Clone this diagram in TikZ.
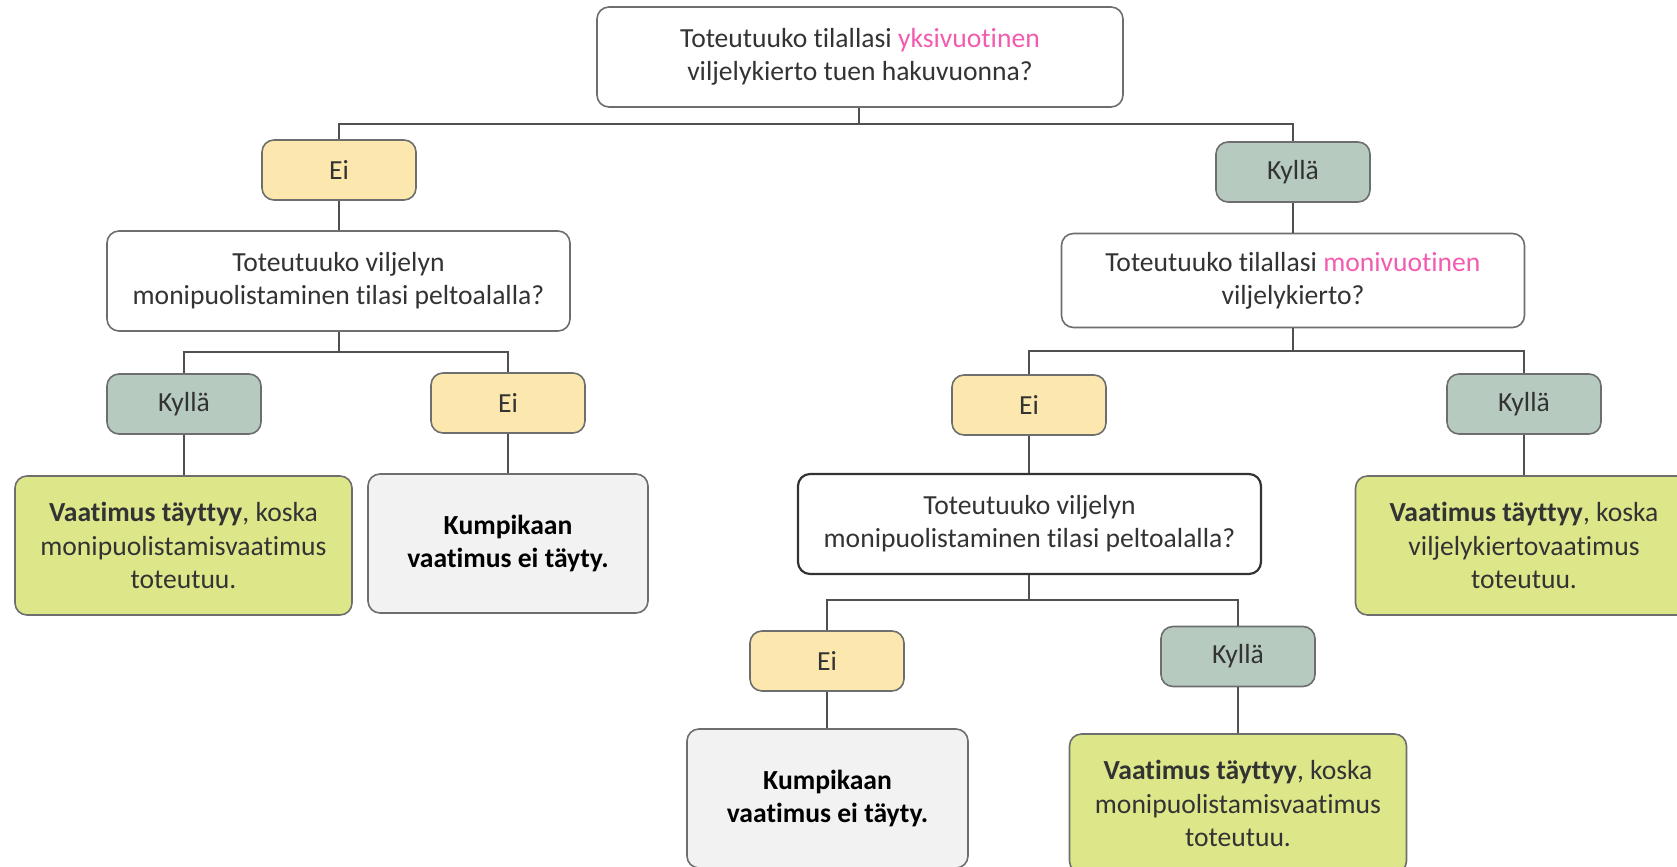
\documentclass[tikz,border=0pt]{standalone}
\usepackage{fontspec}
\setmainfont{Carlito}[Ligatures={NoCommon}]
\usetikzlibrary{positioning}
\definecolor{txt}{HTML}{333333}
\definecolor{pinkt}{HTML}{F35BB0}
\definecolor{yell}{HTML}{FCE8AE}
\definecolor{teal}{HTML}{B7CAC0}
\definecolor{grn}{HTML}{DDE78A}
\definecolor{gry}{HTML}{F2F2F2}
\definecolor{bord}{HTML}{6E6E6E}
\definecolor{lin}{HTML}{505050}
\tikzset{
  x=0.5pt, y=-0.5pt,
  base/.style={draw=bord, line width=0.8pt, rounded corners=6pt, align=center,
    text=txt, font=\fontsize{13.8}{16.6}\selectfont, inner sep=0pt},
  qbox/.style={base, fill=white, minimum width=231.5pt, minimum height=50pt},
  eibox/.style={base, fill=yell, minimum width=77pt, minimum height=30pt},
  kybox/.style={base, fill=teal, minimum width=77pt, minimum height=30pt},
  okbox/.style={base, fill=grn, minimum width=168.5pt, minimum height=69.5pt},
  nobox/.style={base, fill=gry, minimum width=140pt, minimum height=69.5pt, text=black},
  conn/.style={draw=lin, line width=0.75pt},
}
\begin{document}
\begin{tikzpicture}
\useasboundingbox (0,0) rectangle (1677,867);
\begin{scope}
\clip (0,0) rectangle (1677,867);
% level 0
\node[qbox, minimum width=263pt] (top) at (860,57) {Toteutuuko tilallasi \textcolor{pinkt}{yksivuotinen}\\viljelykierto tuen hakuvuonna?};
% level 1
\node[eibox] (ei1) at (339,170) {Ei};
\node[kybox] (ky1) at (1293,172) {Kyllä};
% level 2 questions
\node[qbox] (qL) at (338.5,281) {Toteutuuko viljelyn\\monipuolistaminen tilasi peltoalalla?};
\node[qbox, minimum height=47pt] (qR) at (1293,280.5) {Toteutuuko tilallasi \textcolor{pinkt}{monivuotinen}\\viljelykierto?};
% level 3
\node[kybox] (kyL) at (184,404) {Kyllä};
\node[eibox] (eiL) at (508,403) {Ei};
\node[eibox] (eiR) at (1029,405) {Ei};
\node[kybox] (kyR) at (1524,404) {Kyllä};
% results level 3
\node[okbox] (okL) at (183.5,545.5) {\textbf{Vaatimus täyttyy}, koska\\monipuolistamisvaatimus\\toteutuu.};
\node[nobox] (noL) at (508,543.5) {\textbf{Kumpikaan}\\\textbf{vaatimus ei täyty.}};
\node[qbox, draw=txt, line width=1.1pt] (qM) at (1029.5,524) {Toteutuuko viljelyn\\monipuolistaminen tilasi peltoalalla?};
\node[okbox] (okR) at (1524,545.5) {\textbf{Vaatimus täyttyy}, koska\\viljelykiertovaatimus\\toteutuu.};
% level 4
\node[eibox] (eiB) at (827,661) {Ei};
\node[kybox] (kyB) at (1238,656.5) {Kyllä};
\node[nobox, minimum width=140.5pt] (noB) at (827.5,798.5) {\textbf{Kumpikaan}\\\textbf{vaatimus ei täyty.}};
\node[okbox] (okB) at (1238,803.5) {\textbf{Vaatimus täyttyy}, koska\\monipuolistamisvaatimus\\toteutuu.};
\end{scope}
% junctions
\coordinate (j0) at (859,124);
\coordinate (jL) at (339,352);
\coordinate (jR) at (1293,351);
\coordinate (jM) at (1029,600);
\draw[conn] (top.south -| j0) -- (j0) -| (ei1.north);
\draw[conn] (j0) -| (ky1.north);
\draw[conn] (ei1.south) -- (qL.north -| ei1.south);
\draw[conn] (ky1.south) -- (qR.north -| ky1.south);
\draw[conn] (qL.south -| jL) -- (jL) -| (kyL.north);
\draw[conn] (jL) -| (eiL.north);
\draw[conn] (qR.south -| jR) -- (jR) -| (eiR.north);
\draw[conn] (jR) -| (kyR.north);
\draw[conn] (kyL.south) -- (okL.north -| kyL.south);
\draw[conn] (eiL.south) -- (noL.north -| eiL.south);
\draw[conn] (eiR.south) -- (qM.north -| eiR.south);
\draw[conn] (kyR.south) -- (okR.north -| kyR.south);
\draw[conn] (qM.south -| jM) -- (jM) -| (eiB.north);
\draw[conn] (jM) -| (kyB.north);
\draw[conn] (eiB.south) -- (noB.north -| eiB.south);
\draw[conn] (kyB.south) -- (okB.north -| kyB.south);
\end{tikzpicture}
\end{document}
